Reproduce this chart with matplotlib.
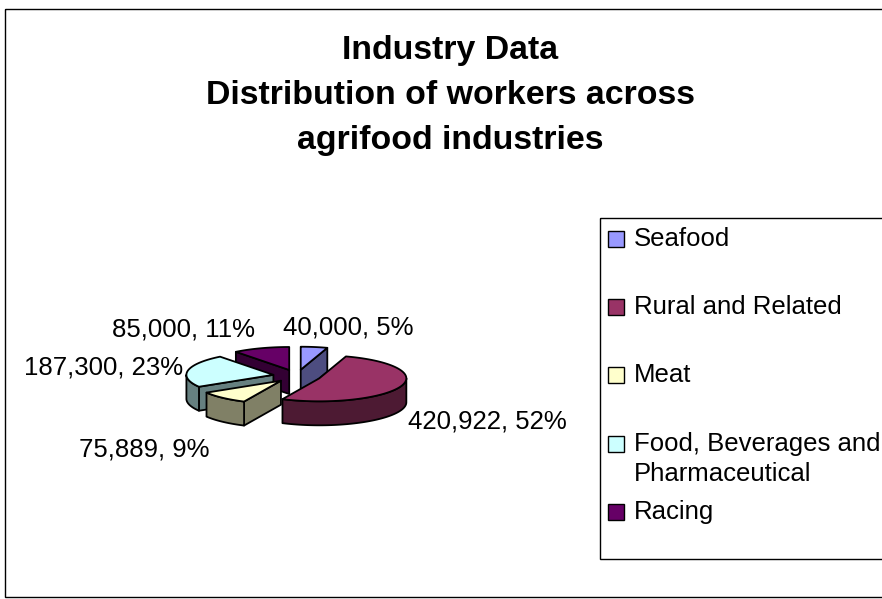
import numpy as np
import matplotlib
matplotlib.use('Agg')
import matplotlib.pyplot as plt
from matplotlib.patches import Polygon, Rectangle

plt.rcParams['font.family'] = ['Liberation Sans', 'DejaVu Sans']

# data
title_lines = ['Industry Data', 'Distribution of workers across', 'agrifood industries']
categories = ['Seafood', 'Rural and Related', 'Meat', 'Food, Beverages and\nPharmaceutical', 'Racing']
workers = [40000, 420922, 75889, 187300, 85000]

top_colors = ['#9999FF', '#993366', '#FFFFCC', '#CCFFFF', '#660066']
wall_colors = ['#4D4D80', '#4D1A33', '#808066', '#668080', '#330033']

# pie geometry, in image pixels
CX, CY = 297, 376
RX, RY = 87, 23
DEPTH = 24
EXPLODE = 24
EDGE = 1.3

# label anchors (left edge, middle)
label_xy = [(283, 328), (408, 422), (79, 449), (24, 368), (112, 329)]
legend_y = [239, 307, 375, 444, 512]

fig = plt.figure(figsize=(8.82, 5.99), dpi=100)
ax = fig.add_axes([0, 0, 1, 1])
ax.set_xlim(0, 882)
ax.set_ylim(599, 0)
ax.axis('off')


def project(theta, cx, cy):
    # theta in degrees, clockwise from the back of the pie
    t = np.radians(theta)
    return cx + RX * np.sin(t), cy - RY * np.cos(t)


def wall(points, color, z):
    # extrude a polyline downwards
    pts = np.array(points)
    low = pts + [0, DEPTH]
    ax.add_patch(Polygon(np.vstack([pts, low[::-1]]), closed=True, facecolor=color,
                         edgecolor='black', linewidth=EDGE, joinstyle='round', zorder=z))


total = sum(workers)
edges = np.concatenate([[0], np.cumsum(workers) / total * 360])

# back slices first so the front ones paint over them
draw_order = [4, 0, 3, 2, 1]
for n, i in enumerate(draw_order):
    start, end = edges[i], edges[i + 1]
    mid = (start + end) / 2
    t = np.radians(mid)
    cx = CX + EXPLODE * np.sin(t)
    cy = CY - EXPLODE * (RY / RX) * np.cos(t)
    z = 2 + n

    if np.sin(np.radians(start)) < -1e-6:
        wall([(cx, cy), project(start, cx, cy)], wall_colors[i], z)
    if np.sin(np.radians(end)) > 1e-6:
        wall([(cx, cy), project(end, cx, cy)], wall_colors[i], z)

    lo, hi = max(start, 90), min(end, 270)
    if lo < hi:
        arc = np.linspace(lo, hi, 60)
        wall(np.column_stack(project(arc, cx, cy)), wall_colors[i], z)

    arc = np.linspace(start, end, 80)
    top = np.vstack([[cx, cy], np.column_stack(project(arc, cx, cy))])
    ax.add_patch(Polygon(top, closed=True, facecolor=top_colors[i], edgecolor='black',
                         linewidth=EDGE, joinstyle='round', zorder=z))

# data labels
for val, (x, y) in zip(workers, label_xy):
    pct = round(val / total * 100)
    ax.text(x, y, f'{val:,}, {pct}%', fontsize=18.5, ha='left', va='center', color='black')

# title
for line, y in zip(title_lines, [50, 95, 140]):
    ax.text(450, y, line, fontsize=24.4, fontweight='bold', ha='center', va='center', color='black')

# chart frame and legend box run off the right edge
ax.add_patch(Rectangle((4.5, 8.5), 900, 588, fill=False, edgecolor='black', linewidth=1.0, zorder=1))
ax.add_patch(Rectangle((599.5, 217.5), 300, 341, fill=False, edgecolor='black', linewidth=1.0, zorder=1))

for name, color, y in zip(categories, top_colors, legend_y):
    ax.add_patch(Rectangle((607.5, y - 8), 16, 16, facecolor=color, edgecolor='black',
                           linewidth=1.0, zorder=2))
    if '\n' in name:
        first, second = name.split('\n')
        ax.text(634, y, first, fontsize=18.5, ha='left', va='center')
        ax.text(634, y + 30, second, fontsize=18.5, ha='left', va='center')
    else:
        ax.text(634, y, name, fontsize=18.5, ha='left', va='center')

fig.savefig('out.png', dpi=100, facecolor='white')
